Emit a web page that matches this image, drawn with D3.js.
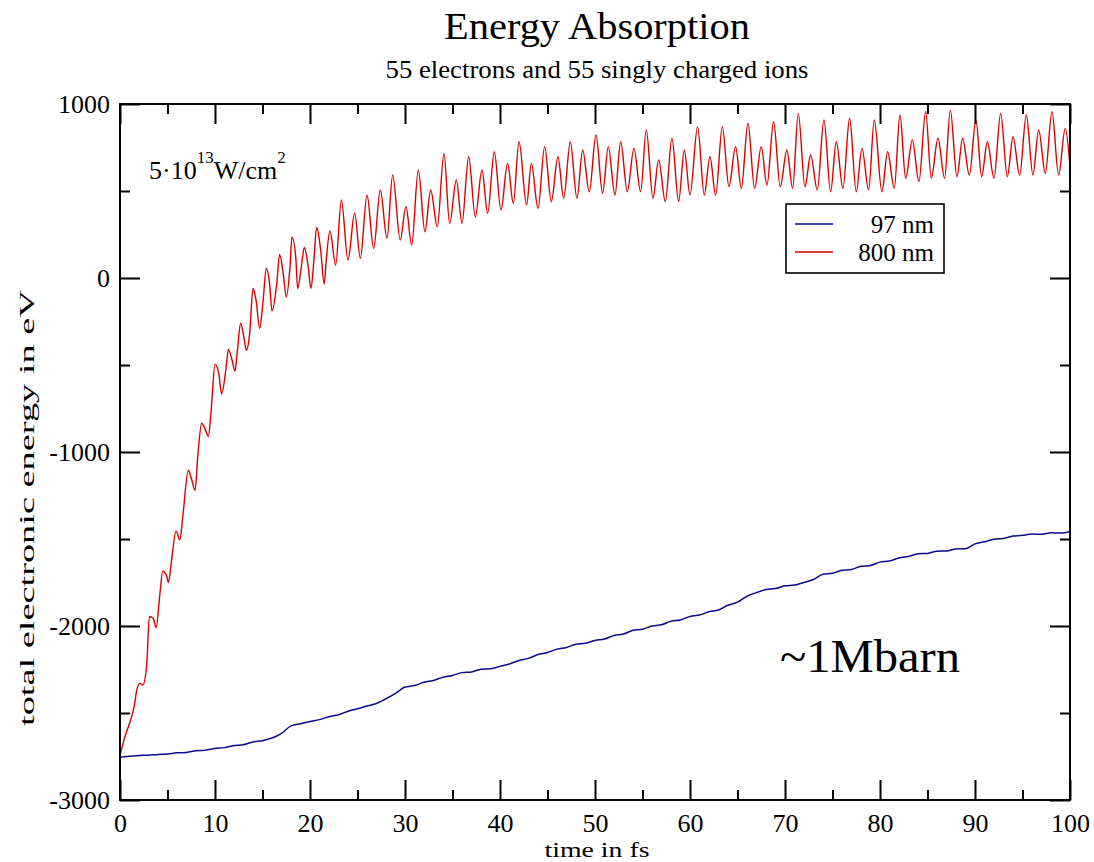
<!DOCTYPE html>
<html>
<head>
<meta charset="utf-8">
<script src="https://cdn.jsdelivr.net/npm/d3@7/dist/d3.min.js"></script>
<style>
  html, body { margin: 0; padding: 0; background: #fff; }
  svg { display: block; }
  text { font-family: "Liberation Serif", "Times New Roman", serif; fill: #000; }
</style>
</head>
<body>
<svg id="chart" width="1094" height="862"></svg>
<script>
// Axis ticks
const xMajorTicks = [0, 10, 20, 30, 40, 50, 60, 70, 80, 90, 100];
const xMinorTicks = [5, 15, 25, 35, 45, 55, 65, 75, 85, 95];
const yMajorTicks = [1000, 0, -1000, -2000, -3000];
const yMinorTicks = [500, -500, -1500, -2500];

// Series names
const seriesNames = ["97 nm", "800 nm"];

// 97 nm: total electronic energy (eV) vs time (fs)
const blueSeries = [
  [0,-2753],[1,-2749],[2,-2744],[3,-2743],[4,-2738],[5,-2735],[6,-2729],[7,-2727],[8,-2717],[9,-2714],
  [10,-2704],[11,-2699],[12,-2687],[13,-2682],[14,-2667],[15,-2659],[16,-2644],[17,-2617],[18,-2574],[19,-2562],
  [20,-2549],[21,-2538],[22,-2521],[23,-2510],[24,-2490],[25,-2476],[26,-2460],[27,-2445],[28,-2418],[29,-2387],
  [30,-2351],[31,-2342],[32,-2323],[33,-2313],[34,-2294],[35,-2284],[36,-2268],[37,-2264],[38,-2248],[39,-2245],
  [40,-2232],[41,-2218],[42,-2198],[43,-2186],[44,-2164],[45,-2152],[46,-2133],[47,-2123],[48,-2105],[49,-2099],
  [50,-2083],[51,-2075],[52,-2055],[53,-2046],[54,-2025],[55,-2019],[56,-2000],[57,-1993],[58,-1973],[59,-1965],
  [60,-1945],[61,-1937],[62,-1918],[63,-1908],[64,-1881],[65,-1863],[66,-1829],[67,-1808],[68,-1790],[69,-1785],
  [70,-1769],[71,-1765],[72,-1750],[73,-1733],[74,-1702],[75,-1697],[76,-1680],[77,-1675],[78,-1657],[79,-1652],
  [80,-1633],[81,-1627],[82,-1609],[83,-1601],[84,-1585],[85,-1583],[86,-1570],[87,-1569],[88,-1557],[89,-1556],
  [90,-1528],[91,-1516],[92,-1501],[93,-1497],[94,-1483],[95,-1479],[96,-1471],[97,-1473],[98,-1464],[99,-1466],
  [100,-1458]
];

// 800 nm: total electronic energy (eV) vs time (fs)
const redSeries = [
  [0,-2745],[0.5,-2640],[1.0,-2560],[1.5,-2460],[1.8,-2360],[2.1,-2330],[2.4,-2340],[2.8,-2230],
  [3.1,-1945],[3.5,-1955],[3.8,-2010],[4.2,-1815],[4.5,-1685],[4.9,-1710],[5.1,-1750],[5.4,-1635],
  [5.9,-1455],[6.3,-1505],[6.6,-1375],[7.2,-1105],[7.5,-1150],[7.9,-1220],[8.2,-1015],[8.6,-835],
  [8.9,-860],[9.3,-910],[9.6,-757],[10.0,-495],[10.4,-551],[10.7,-665],[11.2,-499],[11.4,-410],
  [11.8,-473],[12.1,-535],[12.35,-422],[12.7,-260],[13.05,-344],[13.3,-415],[13.65,-318],[14.0,-60],
  [14.35,-138],[14.7,-290],[15.05,-138],[15.4,55],[15.75,-34],[16.0,-190],[16.5,-34],[16.8,135],
  [17.2,17],[17.5,-110],[17.9,69],[18.1,235],[18.5,120],[18.7,-60],[19.1,69],[19.4,175],
  [19.8,69],[20.1,-60],[20.4,95],[20.7,290],[21.1,172],[21.5,-35],[21.7,95],[22.1,270],
  [22.7,75],[23.3,448],[24.0,103],[24.7,372],[25.3,113],[26.0,477],[26.7,170],[27.4,506],
  [28.1,228],[28.7,592],[29.5,218],[30.1,410],[30.7,190],[31.4,621],[32.1,266],[32.7,506],
  [33.4,295],[34.1,716],[34.7,314],[35.4,563],[36.0,314],[36.7,697],[37.4,352],[38.1,621],
  [38.7,372],[39.4,726],[40.1,391],[40.8,659],[41.4,429],[42.0,783],[42.8,420],[43.3,659],
  [44.0,400],[44.7,755],[45.4,439],[46.1,697],[46.7,458],[47.4,783],[48.1,458],[48.7,736],
  [49.4,496],[50.1,822],[50.8,487],[51.4,755],[52.1,477],[52.7,783],[53.4,496],[54.1,745],
  [54.8,496],[55.4,851],[56.1,458],[56.7,678],[57.4,439],[58.1,803],[58.8,439],[59.4,736],
  [60.0,477],[60.8,870],[61.5,477],[62.1,697],[62.7,477],[63.4,870],[64.1,525],[64.8,755],
  [65.4,515],[66.1,889],[66.8,515],[67.5,755],[68.1,534],[68.8,898],[69.5,525],[70.2,736],
  [70.8,515],[71.4,946],[72.1,525],[72.7,707],[73.4,506],[74.1,908],[74.8,496],[75.4,783],
  [76.1,515],[76.8,918],[77.5,496],[78.1,745],[78.8,506],[79.4,908],[80.2,496],[80.8,726],
  [81.5,515],[82.1,937],[82.7,573],[83.4,793],[84.1,554],[84.8,956],[85.4,573],[86.1,803],
  [86.8,573],[87.4,965],[88.1,582],[88.7,803],[89.4,592],[90.1,908],[90.7,582],[91.3,783],
  [92.0,573],[92.7,946],[93.4,582],[94.0,812],[94.7,592],[95.4,937],[96.1,592],[96.7,851],
  [97.4,601],[98.1,956],[98.8,592],[99.5,860],[100,640]
];

const colors = { blue: "#0a0a8c", red: "#d80000" };

const svg = d3.select("#chart");
const plot = { left: 120, right: 1070, top: 104, bottom: 800 };

const x = d3.scaleLinear().domain([0, 100]).range([plot.left, plot.right]);
const y = d3.scaleLinear().domain([-3000, 1000]).range([plot.bottom, plot.top]);

// Plain integer labels with an ASCII hyphen for negatives
const plainFormat = d => String(d);

// Titles
svg.append("text")
  .attr("x", 597).attr("y", 39)
  .attr("text-anchor", "middle")
  .attr("font-size", 38)
  .attr("textLength", 306).attr("lengthAdjust", "spacingAndGlyphs")
  .text("Energy Absorption");

svg.append("text")
  .attr("x", 597).attr("y", 78)
  .attr("text-anchor", "middle")
  .attr("font-size", 25)
  .attr("textLength", 423).attr("lengthAdjust", "spacingAndGlyphs")
  .text("55 electrons and 55 singly charged ions");

// Data lines
const line = d3.line()
  .x(d => x(d[0]))
  .y(d => y(d[1]))
  .curve(d3.curveMonotoneX);

svg.append("clipPath").attr("id", "plotclip")
  .append("rect")
  .attr("x", plot.left).attr("y", plot.top)
  .attr("width", plot.right - plot.left).attr("height", plot.bottom - plot.top);

const lines = svg.append("g").attr("clip-path", "url(#plotclip)");
lines.append("path")
  .datum(blueSeries)
  .attr("fill", "none")
  .attr("stroke", colors.blue)
  .attr("stroke-width", 1.5)
  .attr("d", line);
lines.append("path")
  .datum(redSeries)
  .attr("fill", "none")
  .attr("stroke", colors.red)
  .attr("stroke-width", 1.4)
  .attr("d", line);

// Axes: ticks pointing inward on all four sides
const majorLen = 20, minorLen = 10;
const axisG = svg.append("g");

function addAxis(axisGen, transform) {
  const g = axisG.append("g").attr("transform", transform).call(axisGen);
  g.select(".domain").remove();
  g.selectAll(".tick line").attr("stroke", "#000").attr("stroke-width", 2);
  return g;
}

// bottom
const xb = addAxis(d3.axisBottom(x).tickValues(xMajorTicks).tickSize(-majorLen).tickPadding(10).tickFormat(plainFormat),
  `translate(0,${plot.bottom})`);
xb.selectAll("text").attr("font-size", 26).attr("dy", "0.85em")
  .style("font-family", '"Liberation Serif", serif');
addAxis(d3.axisBottom(x).tickValues(xMinorTicks).tickSize(-minorLen).tickFormat(""), `translate(0,${plot.bottom})`);
// top
addAxis(d3.axisTop(x).tickValues(xMajorTicks).tickSize(-majorLen).tickFormat(""), `translate(0,${plot.top})`);
addAxis(d3.axisTop(x).tickValues(xMinorTicks).tickSize(-minorLen).tickFormat(""), `translate(0,${plot.top})`);
// left
const yl = addAxis(d3.axisLeft(y).tickValues(yMajorTicks).tickSize(-majorLen).tickPadding(10).tickFormat(plainFormat),
  `translate(${plot.left},0)`);
yl.selectAll("text").attr("font-size", 26)
  .style("font-family", '"Liberation Serif", serif');
addAxis(d3.axisLeft(y).tickValues(yMinorTicks).tickSize(-minorLen).tickFormat(""), `translate(${plot.left},0)`);
// right
addAxis(d3.axisRight(y).tickValues(yMajorTicks).tickSize(-majorLen).tickFormat(""), `translate(${plot.right},0)`);
addAxis(d3.axisRight(y).tickValues(yMinorTicks).tickSize(-minorLen).tickFormat(""), `translate(${plot.right},0)`);

// Frame
svg.append("rect")
  .attr("x", plot.left).attr("y", plot.top)
  .attr("width", plot.right - plot.left).attr("height", plot.bottom - plot.top)
  .attr("fill", "none").attr("stroke", "#000").attr("stroke-width", 2);

// Axis labels
svg.append("text")
  .attr("x", 597).attr("y", 857)
  .attr("text-anchor", "middle")
  .attr("font-size", 22)
  .attr("textLength", 105).attr("lengthAdjust", "spacingAndGlyphs")
  .text("time in fs");

svg.append("text")
  .attr("transform", "translate(34,508) rotate(-90)")
  .attr("text-anchor", "middle")
  .attr("font-size", 21)
  .attr("textLength", 436).attr("lengthAdjust", "spacingAndGlyphs")
  .text("total electronic energy in eV");

// Intensity annotation
const ann = svg.append("text").attr("x", 149).attr("y", 179).attr("font-size", 26);
ann.append("tspan").text("5\u00B710");
ann.append("tspan").attr("font-size", 17).attr("dy", -16).text("13");
ann.append("tspan").attr("dy", 16).text("W/cm");
ann.append("tspan").attr("font-size", 17).attr("dy", -16).text("2");

// Cross-section annotation
svg.append("text")
  .attr("x", 780).attr("y", 672)
  .attr("font-size", 46)
  .attr("textLength", 180).attr("lengthAdjust", "spacingAndGlyphs")
  .text("~1Mbarn");

// Legend
const legend = svg.append("g");
legend.append("rect")
  .attr("x", 786).attr("y", 204).attr("width", 158).attr("height", 69)
  .attr("fill", "#fff").attr("stroke", "#000").attr("stroke-width", 1.6);
const legendColors = [colors.blue, colors.red];
seriesNames.forEach((name, i) => {
  const ly = 224 + i * 28;
  legend.append("line")
    .attr("x1", 795).attr("x2", 833).attr("y1", ly).attr("y2", ly)
    .attr("stroke", legendColors[i]).attr("stroke-width", 1.6);
  legend.append("text")
    .attr("x", 934).attr("y", ly + 9)
    .attr("text-anchor", "end")
    .attr("font-size", 25)
    .text(name);
});
</script>
</body>
</html>
